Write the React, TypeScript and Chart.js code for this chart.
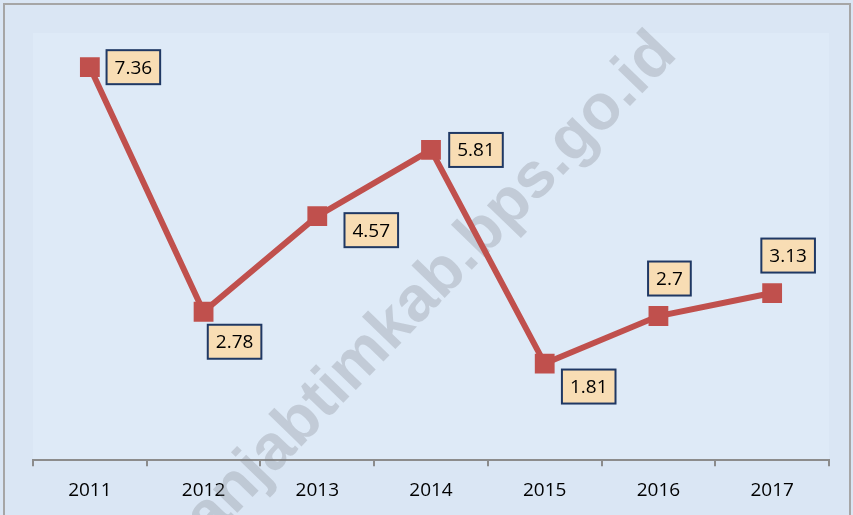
import React, { useEffect, useRef } from "react";
import { Chart, registerables } from "chart.js";

Chart.register(...registerables);

const years = ["2011", "2012", "2013", "2014", "2015", "2016", "2017"];
const values = [7.36, 2.78, 4.57, 5.81, 1.81, 2.7, 3.13];
const valueLabels = ["7.36", "2.78", "4.57", "5.81", "1.81", "2.7", "3.13"];

const FONT = "'Open Sans', 'Liberation Sans', sans-serif";

const backgroundPlugin = {
  id: "bgPlugin",
  beforeDraw(chart: any) {
    const { ctx, width, height, chartArea } = chart;
    ctx.save();
    ctx.fillStyle = "rgb(218,230,244)";
    ctx.fillRect(0, 0, width, height);
    ctx.fillStyle = "rgb(222,234,247)";
    ctx.fillRect(chartArea.left, chartArea.top, chartArea.right - chartArea.left, chartArea.bottom - chartArea.top);
    ctx.strokeStyle = "#a6a6a6";
    ctx.lineWidth = 2;
    ctx.strokeRect(4, 4, width - 7, height + 10);
    ctx.restore();
  },
  beforeDatasetsDraw(chart: any) {
    const { ctx } = chart;
    ctx.save();
    ctx.translate(424, 294);
    ctx.rotate((-46 * Math.PI) / 180);
    ctx.font = "bold 64px 'Liberation Sans', Arial, sans-serif";
    ctx.fillStyle = "rgba(118,122,130,0.27)";
    ctx.textAlign = "center";
    ctx.textBaseline = "middle";
    ctx.fillText("tanjabtimkab.bps.go.id", 0, 0);
    ctx.restore();
  },
};

const labelPlugin = {
  id: "boxLabels",
  afterDatasetsDraw(chart: any, _args: any, opts: any) {
    const { ctx } = chart;
    const meta = chart.getDatasetMeta(0);
    const offsets: number[][] = opts.offsets;
    ctx.save();
    ctx.font = `19px ${FONT}`;
    ctx.textAlign = "center";
    ctx.textBaseline = "middle";
    meta.data.forEach((pt: any, i: number) => {
      const text = valueLabels[i];
      const [dx, dy] = offsets[i];
      const cx = pt.x + dx;
      const cy = pt.y + dy;
      const w = ctx.measureText(text).width + 16;
      const h = 34;
      ctx.fillStyle = "#F8DDB4";
      ctx.fillRect(cx - w / 2, cy - h / 2, w, h);
      ctx.strokeStyle = "#1F3864";
      ctx.lineWidth = 2;
      ctx.strokeRect(cx - w / 2, cy - h / 2, w, h);
      ctx.fillStyle = "#000";
      ctx.fillText(text, cx, cy + 1);
    });
    ctx.restore();
  },
};

export default function App() {
  const ref = useRef<HTMLCanvasElement>(null);
  useEffect(() => {
    document.body.style.margin = "0";
    const chart = new Chart(ref.current!, {
      type: "line",
      data: {
        labels: years,
        datasets: [
          {
            data: values,
            borderColor: "#C0504D",
            backgroundColor: "#C0504D",
            borderWidth: 6,
            pointStyle: "rect",
            pointRadius: 14,
            pointBorderWidth: 0,
            tension: 0,
          },
        ],
      },
      options: {
        animation: false,
        responsive: false,
        layout: { padding: { top: 33, left: 33, right: 24, bottom: 0 } },
        plugins: {
          legend: { display: false },
          tooltip: { enabled: false },
          boxLabels: {
            offsets: [
              [43.5, 0],
              [31, 30],
              [54, 14],
              [45, 0],
              [44, 23],
              [11, -37.5],
              [16, -37.5],
            ],
          },
        } as any,
        scales: {
          x: {
            offset: true,
            grid: {
              offset: true,
              drawOnChartArea: false,
              drawTicks: true,
              tickLength: 6,
              color: "#8c8c8c",
              lineWidth: 2,
            },
            border: { display: true, color: "#8c8c8c", width: 2 },
            ticks: {
              color: "#000",
              font: { size: 19, family: FONT },
              padding: 13,
              maxRotation: 0,
            },
          },
          y: {
            display: false,
            min: 0,
            max: 8,
          },
        },
      },
      plugins: [backgroundPlugin, labelPlugin],
    });
    return () => chart.destroy();
  }, []);
  return <canvas ref={ref} width={853} height={515} style={{ display: "block" }} />;
}
